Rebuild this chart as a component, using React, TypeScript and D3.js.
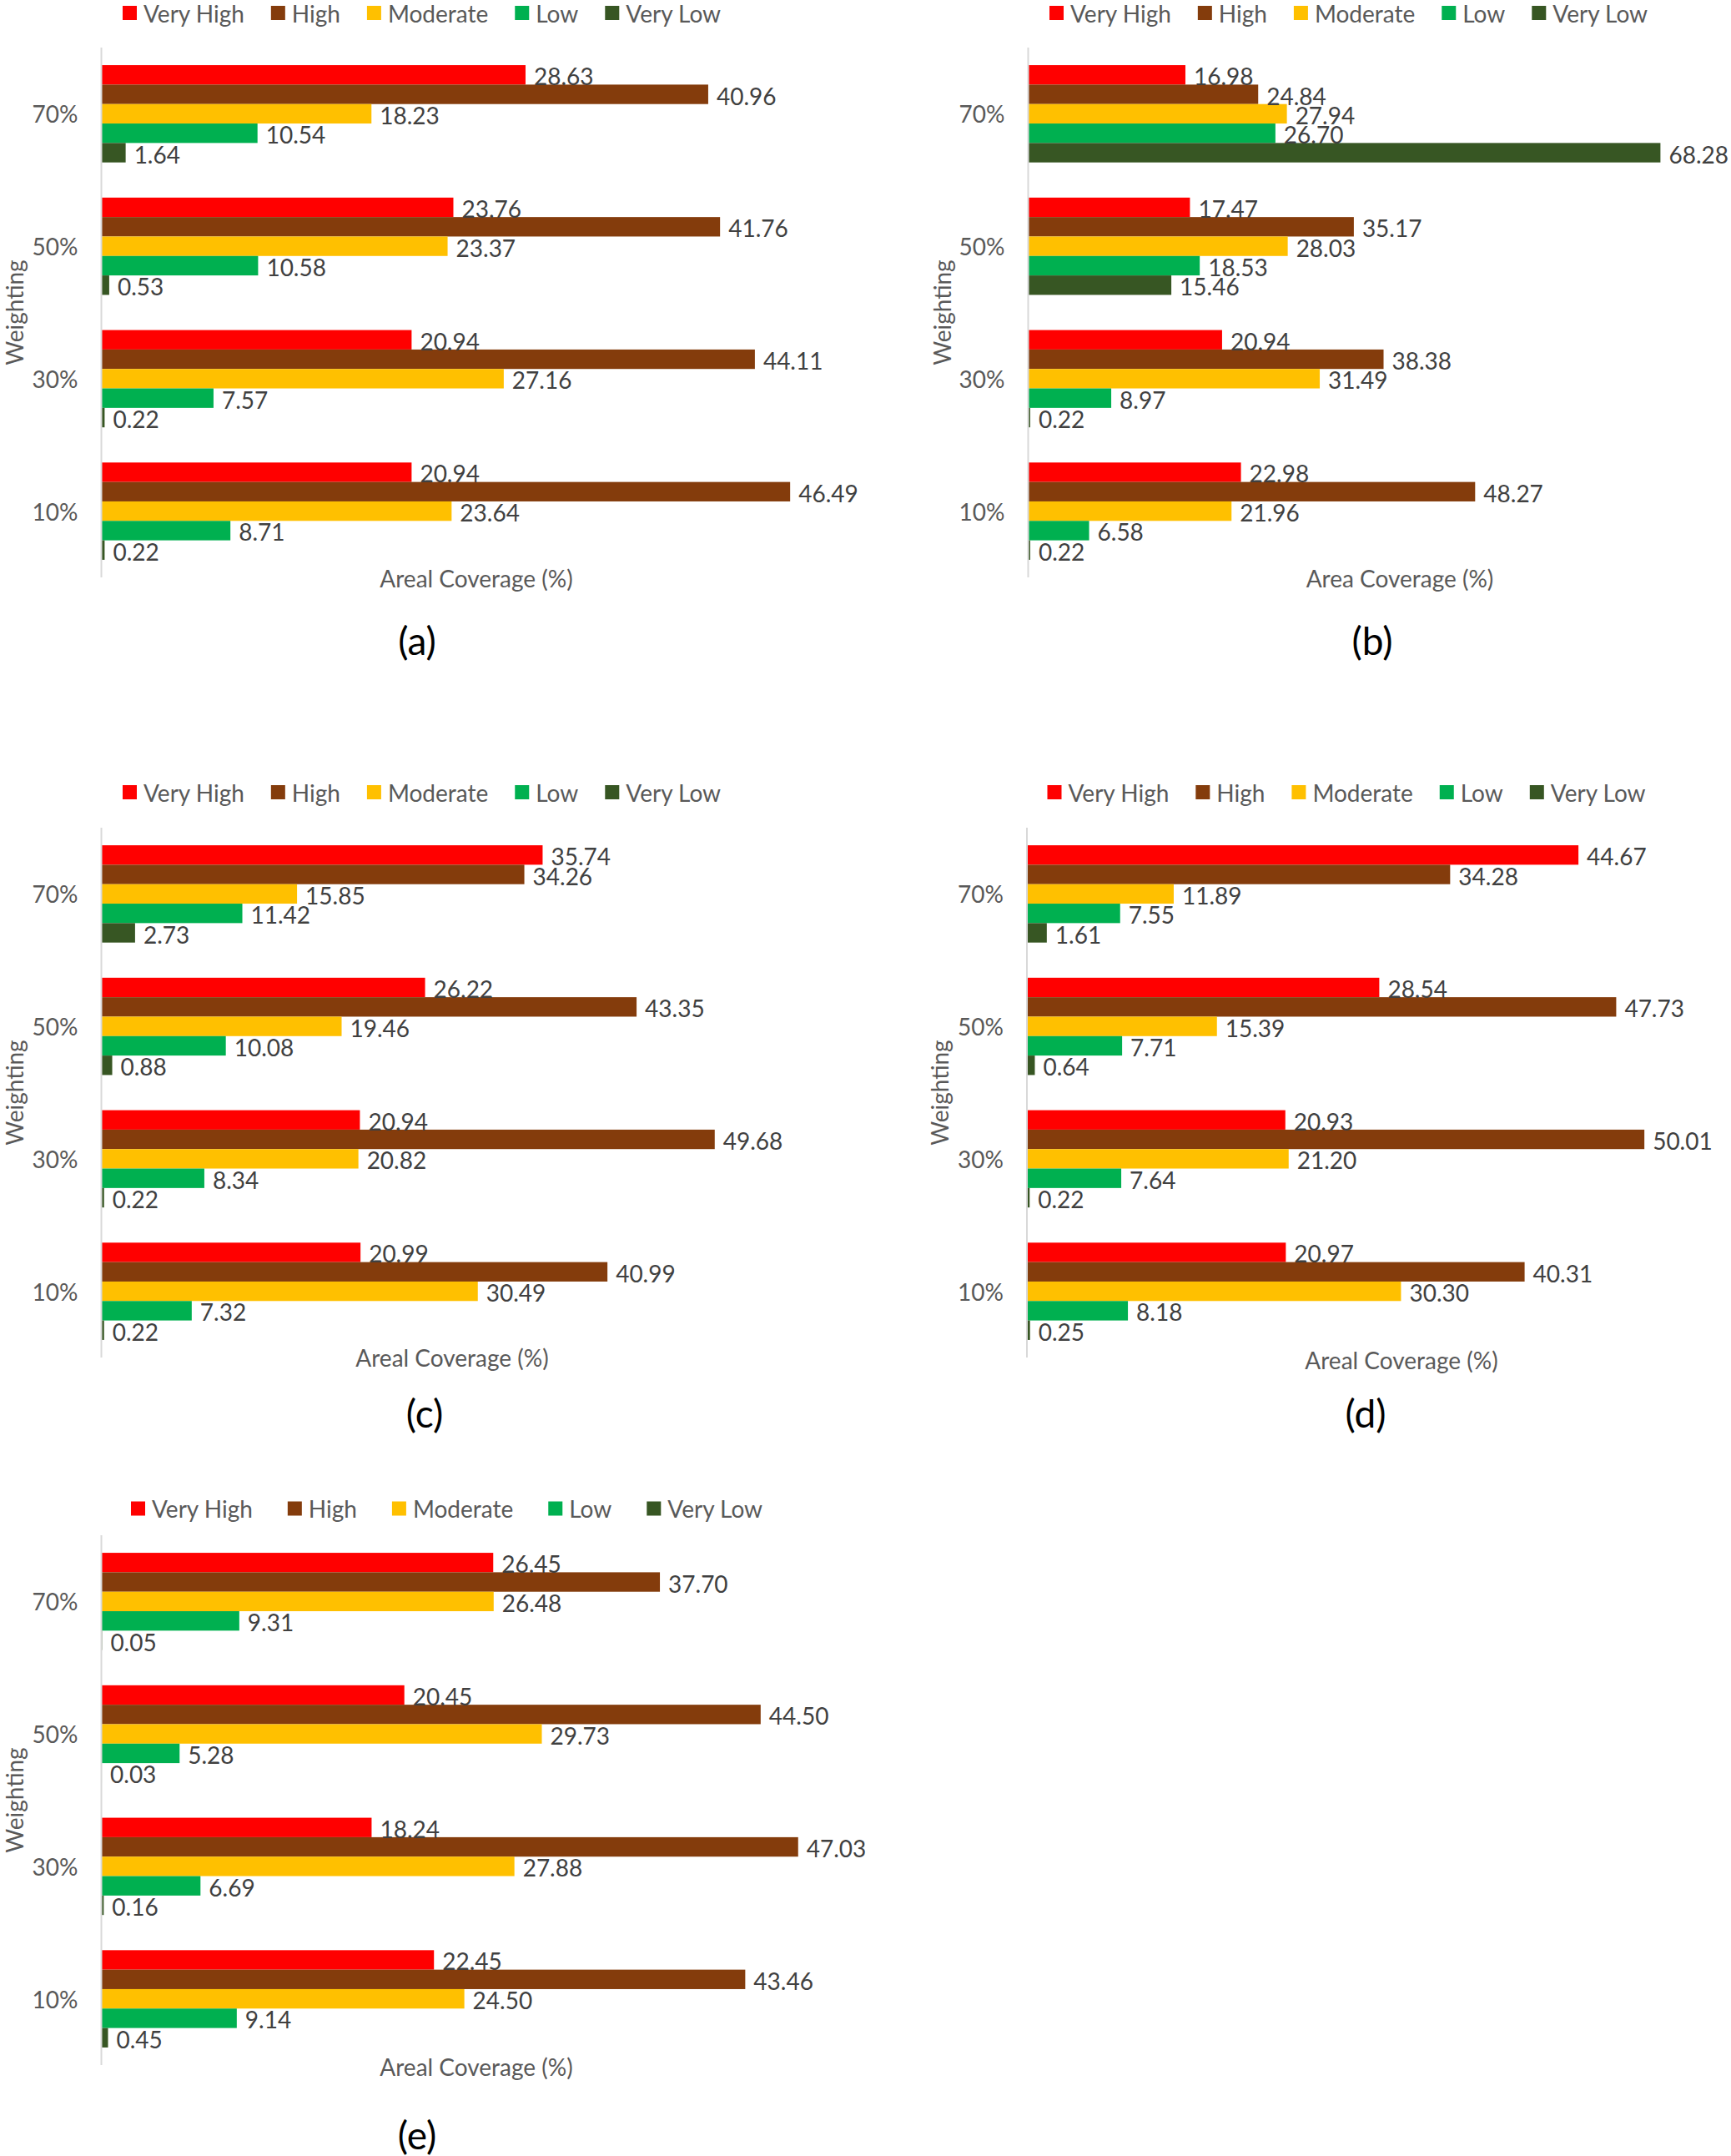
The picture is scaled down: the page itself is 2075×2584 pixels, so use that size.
import React, { useEffect, useRef } from "react";
import * as d3 from "d3";

const weightings = ["70%", "50%", "30%", "10%"];
const classes = ["Very High", "High", "Moderate", "Low", "Very Low"];
const classColors = ["#FF0000", "#843C0C", "#FFC000", "#00B050", "#375623"];

// rows follow weightings, columns follow classes
const panelA = [
  [28.63, 40.96, 18.23, 10.54, 1.64],
  [23.76, 41.76, 23.37, 10.58, 0.53],
  [20.94, 44.11, 27.16, 7.57, 0.22],
  [20.94, 46.49, 23.64, 8.71, 0.22],
];
const panelB = [
  [16.98, 24.84, 27.94, 26.7, 68.28],
  [17.47, 35.17, 28.03, 18.53, 15.46],
  [20.94, 38.38, 31.49, 8.97, 0.22],
  [22.98, 48.27, 21.96, 6.58, 0.22],
];
const panelC = [
  [35.74, 34.26, 15.85, 11.42, 2.73],
  [26.22, 43.35, 19.46, 10.08, 0.88],
  [20.94, 49.68, 20.82, 8.34, 0.22],
  [20.99, 40.99, 30.49, 7.32, 0.22],
];
const panelD = [
  [44.67, 34.28, 11.89, 7.55, 1.61],
  [28.54, 47.73, 15.39, 7.71, 0.64],
  [20.93, 50.01, 21.2, 7.64, 0.22],
  [20.97, 40.31, 30.3, 8.18, 0.25],
];
const panelE = [
  [26.45, 37.7, 26.48, 9.31, 0.05],
  [20.45, 44.5, 29.73, 5.28, 0.03],
  [18.24, 47.03, 27.88, 6.69, 0.16],
  [22.45, 43.46, 24.5, 9.14, 0.45],
];

const panelValues = [panelA, panelB, panelC, panelD, panelE];
const panelLabels = ["(a)", "(b)", "(c)", "(d)", "(e)"];
const axisTitles = [
  "Areal Coverage (%)",
  "Area Coverage (%)",
  "Areal Coverage (%)",
  "Areal Coverage (%)",
  "Areal Coverage (%)",
];
const axisMaxima = [50, 80, 60, 60, 50];
const yAxisTitle = "Weighting";

// layout (pixel placement of each panel)
const layouts = [
  { axisX: 121.5, top: 57, legendY: 15.5, legendX: 147, legendGap: 32, titleX: 571, titleY: 693, labelX: 500, labelY: 767, weightX: 17 },
  { axisX: 1232.5, top: 57, legendY: 15.5, legendX: 1258, legendGap: 32, titleX: 1678, titleY: 693, labelX: 1645, labelY: 767, weightX: 1129 },
  { axisX: 121.5, top: 992, legendY: 949.5, legendX: 147, legendGap: 32, titleX: 542, titleY: 1627, labelX: 509, labelY: 1693, weightX: 17 },
  { axisX: 1231, top: 992, legendY: 949.5, legendX: 1255.5, legendGap: 32, titleX: 1680, titleY: 1630, labelX: 1637, labelY: 1693, weightX: 1126 },
  { axisX: 121.5, top: 1840, legendY: 1808, legendX: 157, legendGap: 42, titleX: 571, titleY: 2477, labelX: 500, labelY: 2558, weightX: 17 },
];

const PLOT_W = 888;
const PLOT_H = 635;
const FONT = "Lato, 'Open Sans', sans-serif";
const TEXT_GRAY = "#595959";
const LABEL_GRAY = "#404040";

export default function App() {
  const ref = useRef<SVGSVGElement | null>(null);

  useEffect(() => {
    const svg = d3.select(ref.current);
    svg.selectAll("*").remove();
    svg.append("rect").attr("width", 2075).attr("height", 2584).attr("fill", "#ffffff");

    panelValues.forEach((values, pi) => {
      const L = layouts[pi];
      const g = svg.append("g");
      const x = d3.scaleLinear().domain([0, axisMaxima[pi]]).range([L.axisX, L.axisX + PLOT_W]);
      const y0 = d3
        .scaleBand<string>()
        .domain(weightings)
        .range([L.top, L.top + PLOT_H])
        .paddingInner(0.2655)
        .paddingOuter(0.13275);
      const y1 = d3.scaleBand<string>().domain(classes).range([0, y0.bandwidth()]);

      // bars
      weightings.forEach((w, wi) => {
        classes.forEach((c, ci) => {
          const v = values[wi][ci];
          g.append("rect")
            .attr("x", x(0))
            .attr("y", (y0(w) as number) + (y1(c) as number))
            .attr("width", Math.max(0, x(v) - x(0)))
            .attr("height", y1.bandwidth())
            .attr("fill", classColors[ci]);
        });
      });

      // axis line
      g.append("line")
        .attr("x1", L.axisX)
        .attr("x2", L.axisX)
        .attr("y1", L.top)
        .attr("y2", L.top + PLOT_H)
        .attr("stroke", "#d9d9d9")
        .attr("stroke-width", 2);

      // data labels
      weightings.forEach((w, wi) => {
        classes.forEach((c, ci) => {
          const v = values[wi][ci];
          g.append("text")
            .attr("x", x(v) + 10)
            .attr("y", (y0(w) as number) + (y1(c) as number) + y1.bandwidth() / 2 + 1.5)
            .attr("dominant-baseline", "central")
            .attr("font-family", FONT)
            .attr("font-size", 28)
            .attr("fill", LABEL_GRAY)
            .text(d3.format(".2f")(v));
        });
      });

      // category labels
      weightings.forEach((w) => {
        g.append("text")
          .attr("x", L.axisX - 28)
          .attr("y", (y0(w) as number) + y0.bandwidth() / 2)
          .attr("text-anchor", "end")
          .attr("dominant-baseline", "central")
          .attr("font-family", FONT)
          .attr("font-size", 28)
          .attr("fill", TEXT_GRAY)
          .text(w);
      });

      // y axis title
      g.append("text")
        .attr("transform", `translate(${L.weightX},${L.top + PLOT_H / 2}) rotate(-90)`)
        .attr("text-anchor", "middle")
        .attr("dominant-baseline", "central")
        .attr("font-family", FONT)
        .attr("font-size", 28)
        .attr("fill", TEXT_GRAY)
        .text(yAxisTitle);

      // x axis title
      g.append("text")
        .attr("x", L.titleX)
        .attr("y", L.titleY)
        .attr("text-anchor", "middle")
        .attr("dominant-baseline", "central")
        .attr("font-family", FONT)
        .attr("font-size", 28)
        .attr("fill", TEXT_GRAY)
        .text(axisTitles[pi]);

      // legend
      let cx = L.legendX;
      classes.forEach((c, ci) => {
        g.append("rect")
          .attr("x", cx)
          .attr("y", L.legendY - 8.5)
          .attr("width", 17)
          .attr("height", 17)
          .attr("fill", classColors[ci]);
        const t = g
          .append("text")
          .attr("x", cx + 25)
          .attr("y", L.legendY)
          .attr("dominant-baseline", "central")
          .attr("font-family", FONT)
          .attr("font-size", 28)
          .attr("fill", TEXT_GRAY)
          .text(c);
        const tw = (t.node() as SVGTextElement).getComputedTextLength();
        cx = cx + 25 + tw + L.legendGap;
      });

      // panel label
      g.append("text")
        .attr("x", L.labelX)
        .attr("y", L.labelY)
        .attr("text-anchor", "middle")
        .attr("dominant-baseline", "central")
        .attr("font-family", FONT)
        .attr("font-size", 46)
        .attr("fill", "#000000")
        .text(panelLabels[pi]);
    });
  }, []);

  return (
    <svg
      ref={ref}
      width={2075}
      height={2584}
      style={{ position: "absolute", left: 0, top: 0, display: "block" }}
    />
  );
}
